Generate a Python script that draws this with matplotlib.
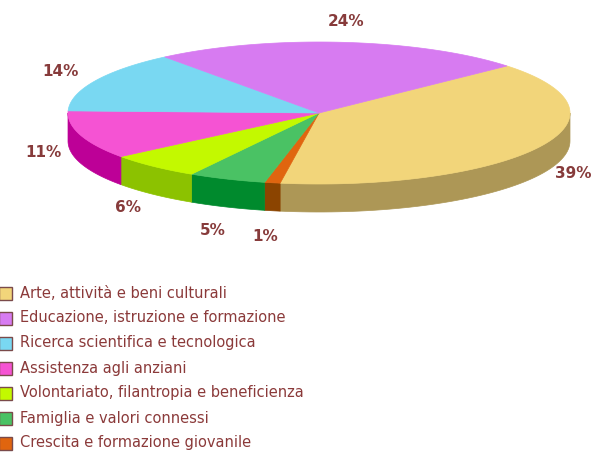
import numpy as np
import matplotlib
matplotlib.use("Agg")
import matplotlib.pyplot as plt
from matplotlib.patches import Polygon, Rectangle

# data
categories = [
    "Arte, attività e beni culturali",
    "Crescita e formazione giovanile",
    "Famiglia e valori connessi",
    "Volontariato, filantropia e beneficienza",
    "Assistenza agli anziani",
    "Ricerca scientifica e tecnologica",
    "Educazione, istruzione e formazione",
]
shares = [39, 1, 5, 6, 11, 14, 24]
top_colors = ["#F2D57A", "#E0650F", "#4AC264", "#C3F900", "#F553D3", "#79D8F2", "#D77BF1"]
side_colors = ["#AD9756", "#8B4400", "#008A2D", "#8CC200", "#BD0097", "#5AA8C0", "#A050C0"]
legend_order = [0, 6, 5, 4, 3, 2, 1]

label_color = "#873B3B"
text_color = "#8B3A3A"

# pie geometry (pixels)
cx, cy = 319, 113
rx, ry = 251, 71
depth = 28
start = 41.5

fig = plt.figure(figsize=(5.92, 4.53), dpi=100)
ax = fig.add_axes([0, 0, 1, 1])
ax.set_xlim(0, 592)
ax.set_ylim(453, 0)
ax.axis("off")


def pt(t):
    r = np.radians(t)
    return cx + rx * np.cos(r), cy - ry * np.sin(r)


# slice angles, clockwise from start
bounds = []
a = start
for s in shares:
    b = a - s / 100 * 360
    bounds.append((b, a))
    a = b

# side walls (front half only)
for (lo, hi), col in zip(bounds, side_colors):
    lo2, hi2 = max(lo, -180), min(hi, 0)
    if hi2 <= lo2:
        continue
    ts = np.linspace(lo2, hi2, 60)
    xs, ys = pt(ts)
    poly = np.column_stack([np.r_[xs, xs[::-1]], np.r_[ys, ys[::-1] + depth]])
    ax.add_patch(Polygon(poly, closed=True, facecolor=col, edgecolor=col, lw=0.5))

# top faces
for (lo, hi), col in zip(bounds, top_colors):
    ts = np.linspace(lo, hi, 120)
    xs, ys = pt(ts)
    poly = np.column_stack([np.r_[cx, xs], np.r_[cy, ys]])
    ax.add_patch(Polygon(poly, closed=True, facecolor=col, edgecolor=col, lw=0.5))

# percent labels
for (lo, hi), s in zip(bounds, shares):
    m = np.radians((lo + hi) / 2)
    lx = cx + 290 * np.cos(m)
    ly = cy - 92 * np.sin(m) + 34 * max(0.0, -np.sin(m))
    ax.text(lx, ly, f"{s}%", ha="center", va="center", fontsize=11,
            fontweight="bold", color=label_color, family="DejaVu Sans")

# legend
for row, i in enumerate(legend_order):
    y = 293 + 25 * row
    ax.add_patch(Rectangle((-1, y - 6.5), 13, 13, facecolor=top_colors[i],
                           edgecolor="#7A4A4A", lw=1))
    ax.text(20, y, categories[i], ha="left", va="center", fontsize=10.5,
            color=text_color, family="DejaVu Sans")

fig.savefig("out.png", dpi=100)
